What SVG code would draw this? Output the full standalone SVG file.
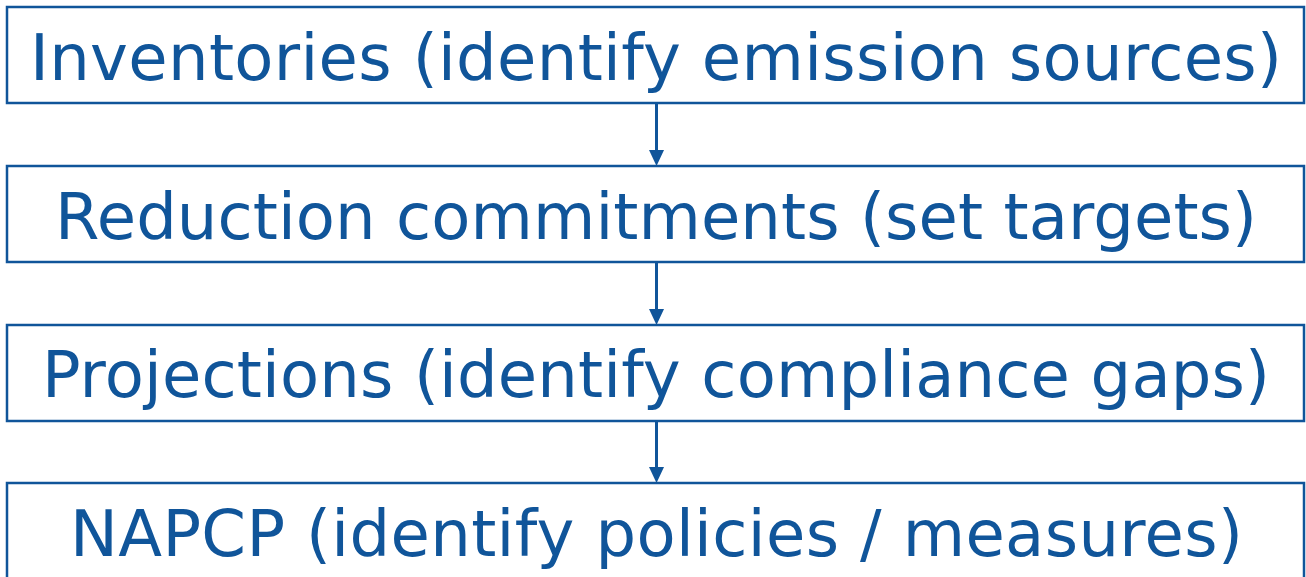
<svg xmlns="http://www.w3.org/2000/svg" width="1306" height="577" viewBox="0 0 1306 577">
<style>
.box{fill:#fff;stroke:#10559a;stroke-width:2.5}
.t{font-family:"DejaVu Sans",Verdana,sans-serif;font-size:64px;fill:#10559a}
.c{stroke:#10559a;stroke-width:3;fill:none}
.h{fill:#10559a}
</style>
<rect width="1306" height="577" fill="#fff"/>
<g id="connectors">
<line class="c" x1="656.5" y1="104" x2="656.5" y2="152"/>
<polygon class="h" points="649,150 664,150 656.5,166"/>
<line class="c" x1="656.5" y1="263" x2="656.5" y2="311"/>
<polygon class="h" points="649,309 664,309 656.5,325"/>
<line class="c" x1="656.5" y1="422" x2="656.5" y2="469"/>
<polygon class="h" points="649,467 664,467 656.5,483"/>
</g>
<g id="n1"><rect class="box" x="7" y="7" width="1297" height="96"/><text class="t" x="30" y="80" textLength="1252" lengthAdjust="spacing">Inventories (identify emission sources)</text></g>
<g id="n2"><rect class="box" x="7" y="166" width="1297" height="96"/><text class="t" x="55" y="239" textLength="1202" lengthAdjust="spacing">Reduction commitments (set targets)</text></g>
<g id="n3"><rect class="box" x="7" y="325" width="1297" height="96"/><text class="t" x="42" y="397" textLength="1228" lengthAdjust="spacing">Projections (identify compliance gaps)</text></g>
<g id="n4"><rect class="box" x="7" y="483" width="1297" height="96"/><text class="t" x="70" y="556" textLength="1173" lengthAdjust="spacing">NAPCP (identify policies / measures)</text></g>
</svg>
